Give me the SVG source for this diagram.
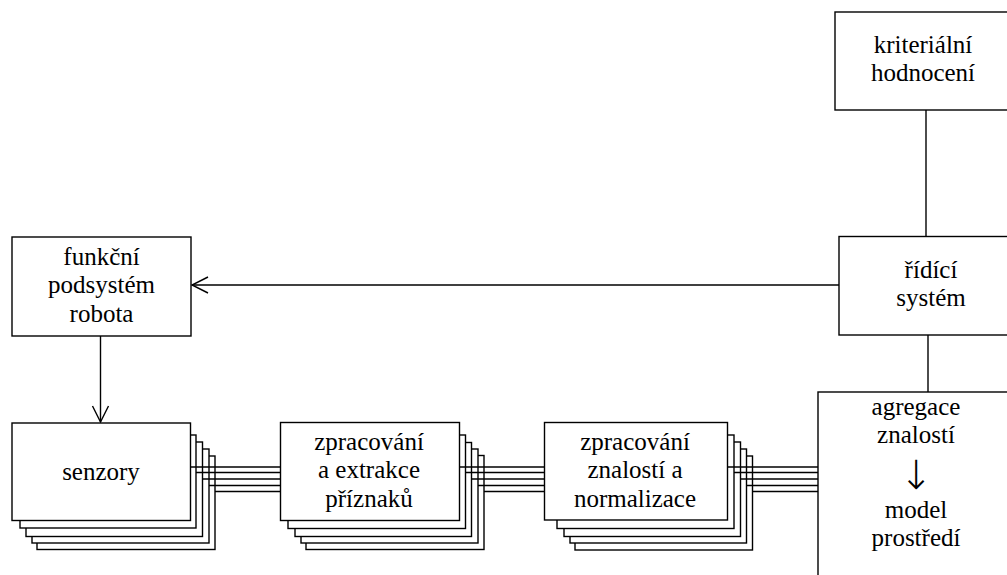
<svg xmlns="http://www.w3.org/2000/svg" width="1007" height="575" viewBox="0 0 1007 575">
<style>
rect{fill:#fff;stroke:#000;stroke-width:1.4}
line{stroke:#000;stroke-width:1.4;fill:none}
text{font-family:'Liberation Serif','Times New Roman',serif;font-size:25px;fill:#000;text-anchor:middle}
text.arrow{font-family:'DejaVu Sans',sans-serif;font-size:40px;font-weight:200}
</style>
<defs>
<marker id="ah" markerUnits="userSpaceOnUse" viewBox="-18 -10 20 20" markerWidth="20" markerHeight="20" refX="0" refY="0" orient="auto" overflow="visible">
<path d="M -16 -8 L 0 0 L -16 8" fill="none" stroke="#000" stroke-width="1.4"/>
</marker>
</defs>
<g id="connectors">
<line x1="926" y1="110" x2="926" y2="237"/>
<line x1="928" y1="335" x2="928" y2="392"/>
<line x1="839" y1="285" x2="192" y2="285" marker-end="url(#ah)"/>
<line x1="100.5" y1="336" x2="100.5" y2="422" marker-end="url(#ah)"/>
</g>
<g id="kriterialni">
<rect x="835" y="12" width="180" height="98"/>
<text x="923" y="53">kriteriální</text>
<text x="923" y="81">hodnocení</text>
</g>
<g id="ridici">
<rect x="839" y="236.5" width="180" height="98.5"/>
<text x="931" y="278">řídící</text>
<text x="931" y="306">systém</text>
</g>
<g id="funkcni">
<rect x="12" y="237" width="179" height="99"/>
<text x="101.5" y="265">funkční</text>
<text x="101.5" y="293.3">podsystém</text>
<text x="101.5" y="321.6">robota</text>
</g>
<g id="senzory">
<rect x="37" y="456" width="178" height="93.5"/>
<rect x="32" y="449" width="177" height="94"/>
<rect x="26" y="442" width="176.5" height="94.5"/>
<rect x="20" y="435" width="176" height="93"/>
<rect x="12" y="423" width="178.5" height="97.5"/>
<text x="101" y="480">senzory</text>
</g>
<g id="zpracovani-extrakce">
<rect x="306" y="455.5" width="178" height="94"/>
<rect x="301" y="449" width="177" height="94"/>
<rect x="295" y="442.5" width="176.5" height="94"/>
<rect x="288" y="435" width="177.5" height="93.5"/>
<rect x="280.5" y="422.5" width="179" height="98"/>
<text x="369" y="450">zpracování</text>
<text x="369" y="478.3">a extrakce</text>
<text x="369" y="506.6">příznaků</text>
</g>
<g id="zpracovani-znalosti">
<rect x="575" y="456" width="177.5" height="94"/>
<rect x="570" y="449" width="176.5" height="94"/>
<rect x="564" y="442" width="176.5" height="94.5"/>
<rect x="557" y="435" width="177" height="93.5"/>
<rect x="544.5" y="422.5" width="183" height="97.5"/>
<text x="635" y="450">zpracování</text>
<text x="635" y="478.3">znalostí a</text>
<text x="635" y="506.6">normalizace</text>
</g>
<g id="agregace">
<rect x="818" y="392" width="200" height="200"/>
<text x="916" y="415">agregace</text>
<text x="916" y="443.3">znalostí</text>
<text class="arrow" x="916" y="489">↓</text>
<text x="916" y="518.3">model</text>
<text x="916" y="546">prostředí</text>
</g>
<g id="bus-connectors">
<line x1="190.5" y1="467" x2="280.5" y2="467"/>
<line x1="196" y1="472.5" x2="280.5" y2="472.5"/>
<line x1="202.5" y1="479" x2="280.5" y2="479"/>
<line x1="209" y1="485.5" x2="280.5" y2="485.5"/>
<line x1="215" y1="491.5" x2="280.5" y2="491.5"/>
<line x1="459.5" y1="467" x2="544.5" y2="467"/>
<line x1="465.5" y1="472.5" x2="544.5" y2="472.5"/>
<line x1="471.5" y1="479" x2="544.5" y2="479"/>
<line x1="478" y1="485.5" x2="544.5" y2="485.5"/>
<line x1="484" y1="491.5" x2="544.5" y2="491.5"/>
<line x1="727.5" y1="467" x2="818" y2="467"/>
<line x1="734" y1="472.5" x2="818" y2="472.5"/>
<line x1="740.5" y1="479" x2="818" y2="479"/>
<line x1="746.5" y1="485.5" x2="818" y2="485.5"/>
<line x1="752.5" y1="491.5" x2="818" y2="491.5"/>
</g>
</svg>
